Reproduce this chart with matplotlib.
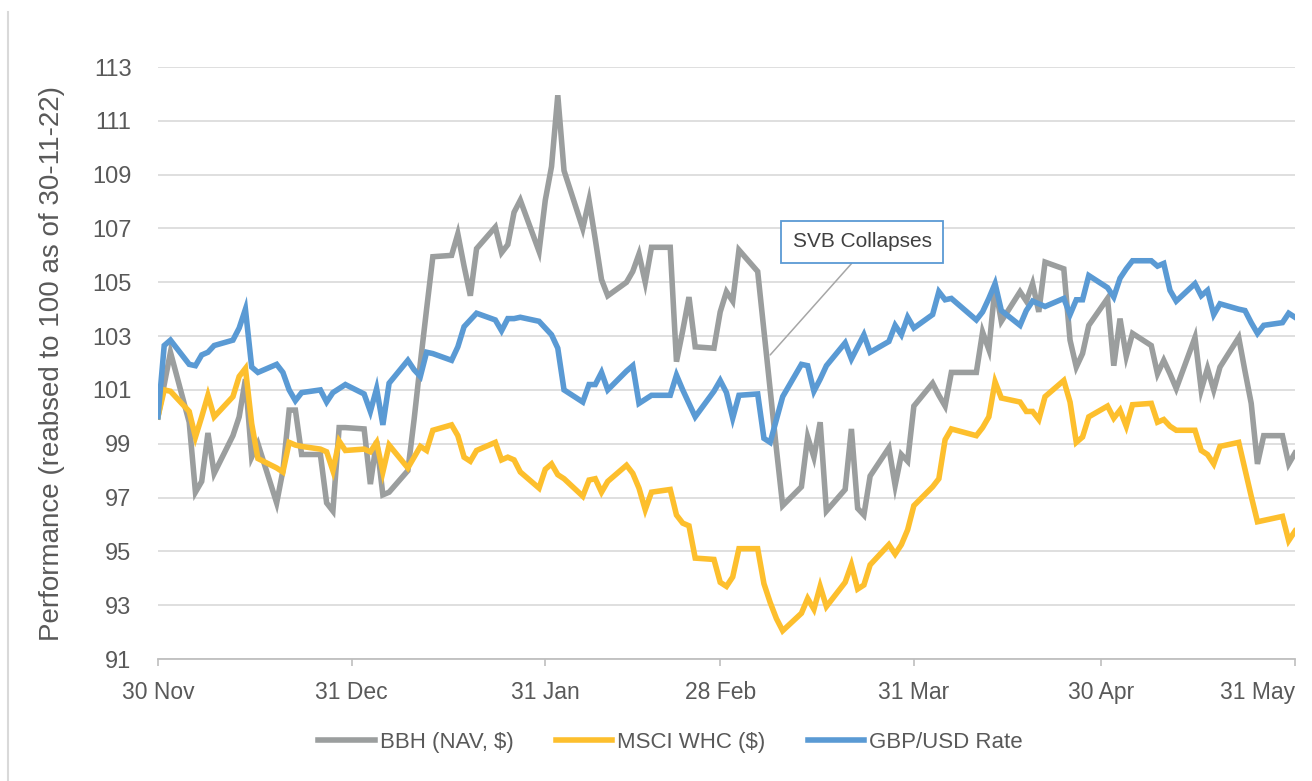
import pandas as pd
import matplotlib
matplotlib.use("Agg")
import matplotlib.pyplot as plt
from matplotlib.lines import Line2D

# values (rebased to 100 on 30-11-22)
bbh_dates = [
    "2022-11-30", "2022-12-01", "2022-12-02", "2022-12-05", "2022-12-06", "2022-12-07", "2022-12-08",
    "2022-12-09", "2022-12-12", "2022-12-13", "2022-12-14", "2022-12-15", "2022-12-16", "2022-12-19",
    "2022-12-20", "2022-12-21", "2022-12-22", "2022-12-23", "2022-12-26", "2022-12-27", "2022-12-28",
    "2022-12-29", "2022-12-30", "2023-01-02", "2023-01-03", "2023-01-04", "2023-01-05", "2023-01-06",
    "2023-01-09", "2023-01-10", "2023-01-11", "2023-01-12", "2023-01-13", "2023-01-16", "2023-01-17",
    "2023-01-18", "2023-01-19", "2023-01-20", "2023-01-23", "2023-01-24", "2023-01-25", "2023-01-26",
    "2023-01-27", "2023-01-30", "2023-01-31", "2023-02-01", "2023-02-02", "2023-02-03", "2023-02-06",
    "2023-02-07", "2023-02-08", "2023-02-09", "2023-02-10", "2023-02-13", "2023-02-14", "2023-02-15",
    "2023-02-16", "2023-02-17", "2023-02-20", "2023-02-21", "2023-02-22", "2023-02-23", "2023-02-24",
    "2023-02-27", "2023-02-28", "2023-03-01", "2023-03-02", "2023-03-03", "2023-03-06", "2023-03-07",
    "2023-03-08", "2023-03-09", "2023-03-10", "2023-03-13", "2023-03-14", "2023-03-15", "2023-03-16",
    "2023-03-17", "2023-03-20", "2023-03-21", "2023-03-22", "2023-03-23", "2023-03-24", "2023-03-27",
    "2023-03-28", "2023-03-29", "2023-03-30", "2023-03-31", "2023-04-03", "2023-04-04", "2023-04-05",
    "2023-04-06", "2023-04-10", "2023-04-11", "2023-04-12", "2023-04-13", "2023-04-14", "2023-04-17",
    "2023-04-18", "2023-04-19", "2023-04-20", "2023-04-21", "2023-04-24", "2023-04-25", "2023-04-26",
    "2023-04-27", "2023-04-28", "2023-05-01", "2023-05-02", "2023-05-03", "2023-05-04", "2023-05-05",
    "2023-05-08", "2023-05-09", "2023-05-10", "2023-05-11", "2023-05-12", "2023-05-15", "2023-05-16",
    "2023-05-17", "2023-05-18", "2023-05-19", "2023-05-22", "2023-05-23", "2023-05-24", "2023-05-25",
    "2023-05-26", "2023-05-29", "2023-05-30", "2023-05-31",
]
bbh_values = [
    100.0, 101.2, 102.4, 99.8, 97.2, 97.6, 99.4,
    97.9, 99.3, 100.0, 101.4, 98.5, 99.0, 96.8,
    98.0, 100.25, 100.25, 98.6, 98.6, 96.8, 96.5,
    99.6, 99.6, 99.55, 97.5, 99.1, 97.1, 97.2,
    98.0, 99.9, 102.0, 104.0, 105.95, 106.0, 106.8,
    105.6, 104.5, 106.25, 107.05, 106.1, 106.4, 107.6,
    108.05, 106.15, 108.05, 109.3, 111.95, 109.15, 107.0,
    108.05, 106.6, 105.1, 104.5, 105.0, 105.4, 106.05,
    105.0, 106.3, 106.3, 102.05, 103.2, 104.45, 102.6,
    102.55, 103.9, 104.65, 104.3, 106.2, 105.4, 103.2,
    101.0, 98.8, 96.7, 97.4, 99.25, 98.5, 99.8,
    96.5, 97.3, 99.55, 96.6, 96.35, 97.8, 98.85,
    97.45, 98.6, 98.35, 100.4, 101.25, 100.8, 100.4,
    101.65, 101.65, 103.15, 102.5, 104.85, 103.55, 104.65,
    104.3, 104.95, 103.9, 105.75, 105.5, 102.85, 101.85,
    102.35, 103.4, 104.4, 101.9, 103.65, 102.25, 103.1,
    102.65, 101.6, 102.1, 101.6, 101.05, 102.95, 101.0,
    101.8, 101.0, 101.85, 102.95, 101.7, 100.5, 98.25,
    99.3, 99.3, 98.25, 98.65,
]

msci_dates = bbh_dates
msci_values = [
    100.0, 101.0, 100.95, 100.2, 99.25, 100.0, 100.8,
    100.0, 100.75, 101.5, 101.8, 99.75, 98.45, 98.1,
    97.95, 99.05, 98.95, 98.9, 98.8, 98.7, 98.0,
    99.1, 98.75, 98.8, 98.7, 99.05, 97.95, 98.95,
    98.1, 98.5, 98.9, 98.75, 99.5, 99.7, 99.3,
    98.5, 98.35, 98.75, 99.05, 98.4, 98.5, 98.4,
    97.95, 97.35, 98.05, 98.25, 97.85, 97.7, 97.05,
    97.65, 97.7, 97.2, 97.6, 98.2, 97.9, 97.35,
    96.55, 97.2, 97.3, 96.35, 96.05, 95.95, 94.75,
    94.7, 93.85, 93.7, 94.05, 95.1, 95.1, 93.8,
    93.1, 92.5, 92.05, 92.7, 93.25, 92.85, 93.7,
    92.95, 93.85, 94.5, 93.6, 93.75, 94.5, 95.25,
    94.9, 95.25, 95.8, 96.7, 97.4, 97.7, 99.15,
    99.55, 99.3, 99.6, 100.0, 101.3, 100.7, 100.55,
    100.2, 100.2, 99.9, 100.75, 101.35, 100.55, 99.05,
    99.25, 100.0, 100.4, 99.95, 100.25, 99.65, 100.45,
    100.5, 99.8, 99.9, 99.65, 99.5, 99.5, 98.75,
    98.6, 98.25, 98.9, 99.05, 98.05, 97.05, 96.1,
    96.15, 96.3, 95.4, 95.75,
]

gbp_dates = bbh_dates
gbp_values = [
    100.0, 102.65, 102.85, 101.95, 101.9, 102.3, 102.4,
    102.65, 102.85, 103.3, 104.0, 101.85, 101.65, 101.95,
    101.65, 101.0, 100.6, 100.9, 101.0, 100.55, 100.9,
    101.05, 101.2, 100.85, 100.2, 101.05, 99.7, 101.25,
    102.1, 101.75, 101.5, 102.4, 102.35, 102.1, 102.6,
    103.35, 103.6, 103.85, 103.6, 103.2, 103.65, 103.65,
    103.7, 103.55, 103.3, 103.05, 102.55, 101.0, 100.55,
    101.2, 101.2, 101.65, 101.0, 101.7, 101.9, 100.5,
    100.65, 100.8, 100.8, 101.55, 101.0, 100.5, 100.0,
    100.95, 101.35, 100.9, 99.95, 100.8, 100.85, 99.2,
    99.05, 99.9, 100.75, 101.95, 101.9, 100.95, 101.4,
    101.9, 102.75, 102.15, 102.6, 103.05, 102.4, 102.8,
    103.4, 103.05, 103.7, 103.3, 103.8, 104.65, 104.35,
    104.4, 103.6, 103.9, 104.4, 104.95, 103.95, 103.4,
    103.95, 104.3, 104.2, 104.1, 104.4, 103.8, 104.35,
    104.35, 105.25, 104.8, 104.45, 105.15, 105.5, 105.8,
    105.8, 105.6, 105.7, 104.7, 104.3, 104.95, 104.5,
    104.7, 103.8, 104.2, 104.0, 103.95, 103.5, 103.1,
    103.4, 103.5, 103.85, 103.7,
]

series_names = ["BBH (NAV, $)", "MSCI WHC ($)", "GBP/USD Rate"]
series_colors = ["#9B9E9E", "#FDBF2D", "#5A9AD4"]

tick_dates = ["2022-11-30", "2022-12-31", "2023-01-31", "2023-02-28",
              "2023-03-31", "2023-04-30", "2023-05-31"]
tick_labels = ["30 Nov", "31 Dec", "31 Jan", "28 Feb", "31 Mar", "30 Apr", "31 May"]
y_ticks = list(range(91, 114, 2))

event_label = "SVB Collapses"
event_date = "2023-03-08"
event_value = 102.3
label_date = "2023-03-22 18:00"
label_value = 106.5

fam = ["Liberation Sans", "DejaVu Sans"]
grey_txt = "#595959"

fig = plt.figure(figsize=(13.12, 7.81), dpi=100)
ax = fig.add_axes([0.1204, 0.1562, 0.8666, 0.758])

all_dates = [bbh_dates, msci_dates, gbp_dates]
all_values = [bbh_values, msci_values, gbp_values]
for d, v, name, c in zip(all_dates, all_values, series_names, series_colors):
    ax.plot(pd.to_datetime(d), v, color=c, lw=4.0, label=name,
            solid_joinstyle="miter", zorder=3)

ax.set_xlim(pd.Timestamp("2022-11-30"), pd.Timestamp("2023-05-31"))
ax.set_ylim(91, 113)
ax.set_yticks(y_ticks)
ax.set_xticks(pd.to_datetime(tick_dates))
ax.set_xticklabels(tick_labels, family=fam, fontsize=16.5, color=grey_txt)
ax.get_xticklabels()[-1].set_horizontalalignment("right")
for t in ax.get_yticklabels():
    t.set_family(fam)

ax.grid(axis="y", color="#D9D9D9", lw=1.2, zorder=0)
for s in ["top", "right", "left"]:
    ax.spines[s].set_visible(False)
ax.spines["bottom"].set_color("#BFBFBF")
ax.spines["bottom"].set_linewidth(1.3)

ax.tick_params(axis="y", length=0, pad=19, labelsize=17, labelcolor=grey_txt)
ax.tick_params(axis="x", length=5, width=1.2, color="#BFBFBF", pad=11)

ax.set_ylabel("Performance (reabsed to 100 as of 30-11-22)", fontsize=20,
              color=grey_txt, family=fam)
ax.yaxis.set_label_coords(-0.082, 0.5)

ax.annotate(event_label,
            xy=(pd.Timestamp(event_date), event_value),
            xytext=(pd.Timestamp(label_date), label_value),
            ha="center", va="center", fontsize=15, color="#404040", family=fam,
            bbox=dict(boxstyle="square,pad=0.55", fc="white", ec="#5A9AD4", lw=1.3),
            arrowprops=dict(arrowstyle="-", color="#A6A6A6", lw=1.1,
                            relpos=(0.5, 0.0), shrinkA=0, shrinkB=0),
            zorder=5)

fig.legend(loc="center", bbox_to_anchor=(0.511, 0.049), ncol=3, frameon=False,
           prop={"family": fam, "size": 16}, handlelength=2.55,
           columnspacing=1.9, handletextpad=0.22, labelcolor=grey_txt)

# thin frame edge on the left of the picture
fig.add_artist(Line2D([8 / 1312, 8 / 1312], [0, 1 - 12 / 781],
                      transform=fig.transFigure, color="#D9D9D9", lw=1.5))

fig.savefig("out.png", dpi=100)
